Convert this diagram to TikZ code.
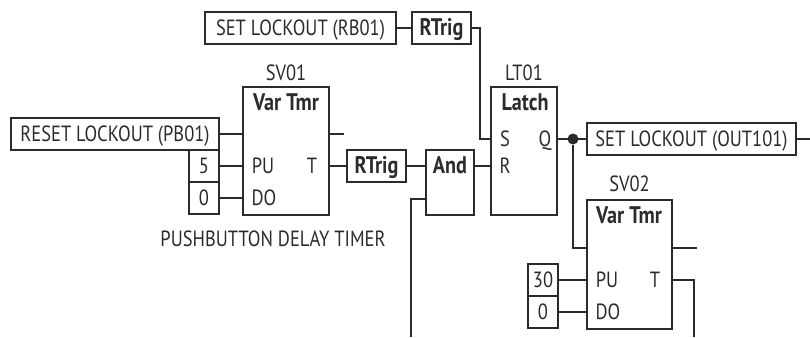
\documentclass[tikz,border=0pt]{standalone}
\usepackage{fontspec}
\setmainfont[FakeStretch=0.84]{PT Sans}
\usetikzlibrary{positioning}

\definecolor{inkline}{RGB}{45,42,42}

\tikzset{
	every node/.style={font=\fontsize{22}{24}\selectfont, text=inkline, inner sep=0pt, outer sep=0pt, text height=15pt, text depth=0pt},
	wire/.style={draw=inkline, line width=1.1pt},
	lblbox/.style={draw=inkline, line width=1.1pt, minimum height=32pt},
	valbox/.style={lblbox, minimum width=30pt},
	fnbox/.style={draw=inkline, line width=1.1pt, anchor=north west},
	fnname/.style={font=\fontsize{24}{26}\selectfont\bfseries},
	joint/.style={circle, fill=inkline, minimum size=11pt, text height=0pt}
}

\begin{document}
\begin{tikzpicture}[x=1pt, y=1pt]
		\useasboundingbox (0,0) rectangle (810,-337);

		%set rb01
		\node[lblbox, minimum width=191pt, anchor=north west] (setrb) at (205,-12) {SET LOCKOUT (RB01)};
		%rtrig top
		\node[lblbox, minimum width=59pt, right=16pt of setrb, fnname] (rtrigtop) {RTrig};
		%lt01
		\node[fnbox, minimum width=66pt, minimum height=128pt, below right=43pt and 20pt of rtrigtop] (lt01) {};
		\node[above=7pt of lt01] (lt01name) {LT01};
		\node[fnname] (latch) at ([shift={(34,-16)}]lt01.north west) {Latch};
		\node (lts) at ([shift={(14,-52)}]lt01.north west) {S};
		\node (ltq) at ([shift={(-12,-52)}]lt01.north east) {Q};
		\node (ltr) at ([shift={(14,-79)}]lt01.north west) {R};
		%sv01
		\node[fnbox, minimum width=86pt, minimum height=128pt, left=162pt of lt01] (sv01) {};
		\node[above=7pt of sv01] (sv01name) {SV01};
		\node[fnname] (sv01tmr) at ([shift={(43,-16)}]sv01.north west) {Var Tmr};
		\node (sv01pu) at ([shift={(20,-79)}]sv01.north west) {PU};
		\node (sv01t) at ([shift={(-17,-79)}]sv01.north east) {T};
		\node (sv01do) at ([shift={(21,-111)}]sv01.north west) {DO};
		\node[below=16pt of sv01, xshift=-13pt] (sv01note) {PUSHBUTTON DELAY TIMER};
		%reset pb01
		\node[lblbox, minimum width=208pt, anchor=north east] (rstpb) at ([shift={(-24,-31)}]sv01.north west) {RESET LOCKOUT (PB01)};
		%5
		\node[valbox, below left=0pt and 0pt of rstpb.south east] (val5) {5};
		%0
		\node[valbox, below=0pt of val5] (val0) {0};
		%rtrig mid
		\node[lblbox, minimum width=59pt, fnname, anchor=west] (rtrigmid) at ([xshift=18pt]sv01.east |- val5) {RTrig};
		%and
		\node[fnbox, minimum width=48pt, minimum height=65pt] (andgate) at ([xshift=20pt]rtrigmid.north east) {};
		\node[fnname] (andname) at (andgate.north |- val5) {And};
		\coordinate (andin) at ([yshift=16pt]andgate.south west);
		\coordinate (andfoot) at ([xshift=-15pt]andin |- 0,-337);
		%set out101
		\node[lblbox, minimum width=209pt, anchor=west] (setout) at ([xshift=30pt]lt01.east |- ltq) {SET LOCKOUT (OUT101)};
		\coordinate (outend) at (810,0 |- setout);
		\node[joint] (qdot) at ([xshift=16pt]lt01.east |- ltq) {};
		%sv02
		\node[fnbox, minimum width=85pt, minimum height=129pt, below=45pt of setout.south west, anchor=north west] (sv02) {};
		\node[above=9pt of sv02] (sv02name) {SV02};
		\node[fnname] (sv02tmr) at ([shift={(42,-16)}]sv02.north west) {Var Tmr};
		\node (sv02pu) at ([shift={(20,-80)}]sv02.north west) {PU};
		\node (sv02t) at ([shift={(-17,-80)}]sv02.north east) {T};
		\node (sv02do) at ([shift={(21,-112)}]sv02.north west) {DO};
		\coordinate (sv02en) at ([yshift=-48pt]sv02.north west);
		%30
		\node[valbox, anchor=east] (val30) at ([xshift=-29pt]sv02.west |- sv02pu) {30};
		%0 lower
		\node[valbox, below=0pt of val30] (val0b) {0};
		\coordinate (sv02bend) at ([xshift=22pt]sv02.east |- sv02t);
		\coordinate (sv02foot) at (sv02bend |- 0,-337);

		% rb01
		\draw[wire] (setrb) -- (rtrigtop);
		\draw[wire] (rtrigtop.east) -- ++(9,0) |- (lt01.west |- lts);

		% sv01
		\draw[wire] (rstpb.east) -- (rstpb.east -| sv01.west);
		\draw[wire] (val5.east) -- (val5.east -| sv01.west);
		\draw[wire] (val0.east) -- (val0.east -| sv01.west);
		\draw[wire] (sv01.east |- rstpb) -- ++(15,0);
		\draw[wire] (sv01.east |- val5) -- (rtrigmid.west);

		% and
		\draw[wire] (rtrigmid.east) -- (rtrigmid.east -| andgate.west);
		\draw[wire] (andgate.east |- andname) -- (lt01.west |- andname);
		\draw[wire] (andin) -| (andfoot);

		% latch
		\draw[wire] (lt01.east |- ltq) -- (setout.west);
		\draw[wire] (setout.east) -- (outend);
		\draw[wire] (qdot) |- (sv02en);

		% sv02
		\draw[wire] (val30.east) -- (val30.east -| sv02.west);
		\draw[wire] (val0b.east) -- (val0b.east -| sv02.west);
		\draw[wire] (sv02.east |- sv02en) -- ++(25,0);
		\draw[wire] (sv02.east |- sv02t) -- (sv02bend) -- (sv02foot);

\end{tikzpicture}
\end{document}
